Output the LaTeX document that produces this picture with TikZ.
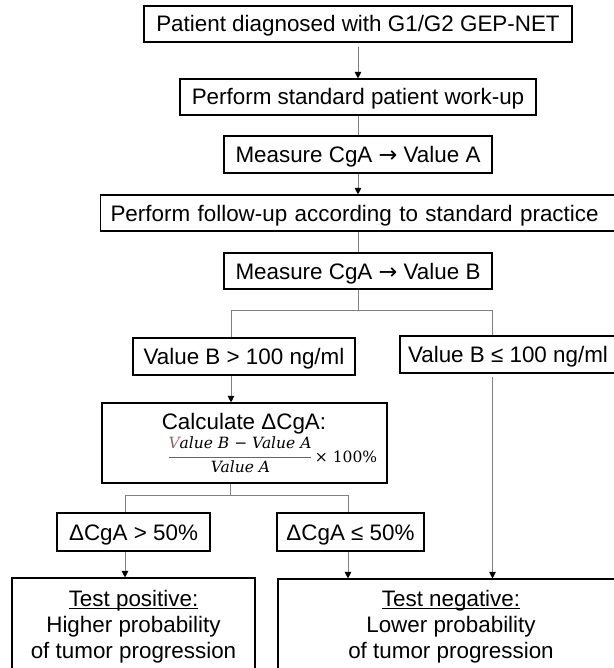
\documentclass[tikz,border=0pt]{standalone}
\usepackage{fontspec}
\setmainfont{Liberation Sans}
\newfontfamily\formfont{DejaVu Serif}
\newfontfamily\arrfont{DejaVu Sans}
\usetikzlibrary{arrows.meta}
\definecolor{vbrown}{RGB}{140,105,105}
\definecolor{linegray}{RGB}{128,128,128}
\newcommand\myul[1]{\setbox0\hbox{#1}\rlap{\rule[-2.4pt]{\wd0}{1pt}}\box0}
\newcommand\myarr{{\arrfont →}}
\begin{document}
\begin{tikzpicture}[x=1pt,y=1pt,
  box/.style={draw=black, line width=1.1pt, inner sep=0pt, font=\fontsize{22.4}{26}\selectfont, text height=16pt, text depth=0pt},
  bigbox/.style={draw=black, line width=1.1pt, inner sep=0pt, font=\fontsize{22.4}{26}\selectfont, align=center},
  plainbox/.style={draw=black, line width=1.1pt, inner sep=0pt},
  conn/.style={draw=linegray, line width=0.9pt},
  arr/.style={conn, -{Triangle[length=6.5pt,width=6.5pt,color=black]}},
  txt/.style={font=\fontsize{22.4}{26}\selectfont, inner sep=0pt, anchor=base},
  formula/.style={font=\formfont\itshape\fontsize{15.5}{18}\selectfont, inner sep=0pt, anchor=base}
]
\useasboundingbox (0,0) rectangle (613,-668);

\node[box, minimum width=428, minimum height=36] (b1) at (358,-24) {Patient diagnosed with G1/G2 GEP-NET};
\node[box, minimum width=356, minimum height=36] (b2) at (358,-97) {Perform standard patient work-up};
\node[box, minimum width=268, minimum height=37] (b3) at (358,-154.5) {Measure CgA \myarr{} Value A};
\node[box, minimum height=36, text width=496pt, inner xsep=10pt, align=left, anchor=west] (b4) at (100,-213) {Perform follow-up according to standard practice};
\node[box, minimum width=268, minimum height=36] (b5) at (358,-271) {Measure CgA \myarr{} Value B};

\node[box, minimum width=222, minimum height=37] (v1) at (244,-356.5) {Value B > 100 ng/ml};
\node[box, minimum width=216, minimum height=37] (v2) at (508,-354.5) {Value B ≤ 100 ng/ml};

\node[plainbox, minimum width=285, minimum height=80] (calc) at (244.5,-443) {};
\node[txt] (calct) at (244,-429) {Calculate ΔCgA:};
\node[formula] (num) at (240,-448.3) {{\color{vbrown}V}alue B − Value A};
\draw[line width=0.8pt, black!60] (169,-457) -- (311,-457);
\node[formula] (den) at (240.5,-472.7) {Value A};
\node[formula, font=\formfont\fontsize{15.5}{18}\selectfont] (times) at (346,-462) {× 100\%};

\node[box, minimum width=153, minimum height=38] (d1) at (133.5,-532) {ΔCgA > 50\%};
\node[box, minimum width=147, minimum height=38] (d2) at (350.5,-532) {ΔCgA ≤ 50\%};

\node[bigbox, minimum width=243, minimum height=97] (tp) at (133.5,-626.5) {\myul{Test positive:}\\Higher probability\\of tumor progression};
\node[bigbox, minimum width=346, minimum height=96] (tn) at (451,-627) {\myul{Test negative:}\\Lower probability\\of tumor progression};

\coordinate (j1) at (358,-310);
\coordinate (xl) at (231,-310);
\coordinate (xr) at (492.5,-310);
\coordinate (j2) at (230,-495);
\coordinate (yl) at (125,-495);
\coordinate (yr) at (348,-495);

\draw[arr, shorten <=4pt] (b1) -- (b2);
\draw[conn] (b2) -- (b3);
\draw[arr] (b3.south) -- (b3.south |- b4.north);
\draw[conn] (b5.north |- b4.south) -- (b5.north);
\draw[conn] (b5.south) -- (j1);
\draw[conn] (v1.north -| xl) -- (xl) -- (xr) -- (v2.north -| xr);
\draw[arr] (v1.south -| xl) -- (calc.north -| xl);
\draw[conn] (calc.south -| j2) -- (j2);
\draw[conn] (d1.north -| yl) -- (yl) -- (yr) -- (d2.north -| yr);
\draw[arr] (d1.south -| yl) -- (tp.north -| yl);
\draw[arr] (d2.south -| yr) -- (tn.north -| yr);
\draw[arr, shorten <=3pt] (v2.south -| xr) -- (tn.north -| xr);
\end{tikzpicture}
\end{document}
